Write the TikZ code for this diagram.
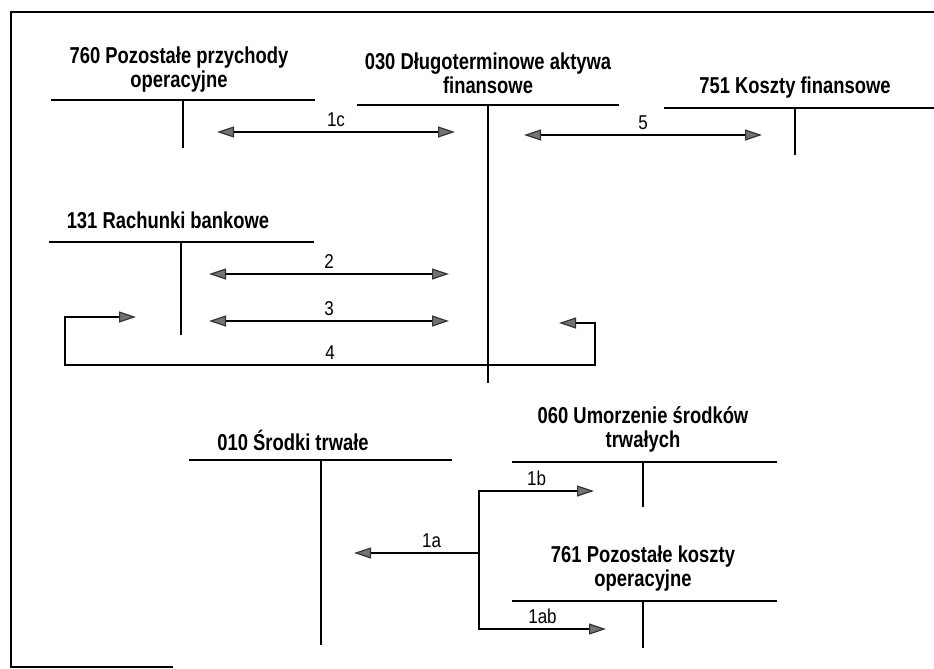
\documentclass[tikz,border=0pt]{standalone}
\usepackage{fontspec}
\setmainfont{Liberation Sans}[FakeStretch=0.85]
\newfontfamily\kontofont{Liberation Sans}[FakeStretch=0.8]
\usetikzlibrary{arrows.meta}
\usetikzlibrary{positioning}

\begin{document}
\begin{tikzpicture}[
			x=1pt, y=-1pt,
			>={Triangle[length=17pt,width=11pt,fill=black!55,color=black!80]},
			konto/.style={align=center, inner sep=0pt, font=\kontofont\bfseries\fontsize{23}{24}\selectfont},
			tline/.style={line width=1.7pt},
			flow/.style={line width=1.2pt},
			kwota/.style={above=4pt, inner sep=1pt, font=\fontsize{20}{22}\selectfont},
			]
			
			\useasboundingbox (0,0) rectangle (934,669);
			\draw [line width=1.3pt] (934,12) -- (11,12) -- (11,667) -- (173,667);
			
			% konta
			\node[konto]       (k760)  at (179,70)     {760 Pozostałe przychody\\operacyjne};
			\node[konto]       (k030)  at (488,73)     {030 Długoterminowe aktywa\\finansowe};
			\node[konto]       (k751)  at (795,88)     {751 Koszty finansowe};
			\node[konto]       (k131)  at (168,220)    {131 Rachunki bankowe};
			\node[konto]       (k010)  at (293,440)    {010 Środki trwałe};
			\node[konto]       (k060)  at (643,429)    {060 Umorzenie środków\\trwałych};
			\node[konto]       (k761)  at (643,569)    {761 Pozostałe koszty\\operacyjne};
			
			\draw [tline] (51,100) -- (315,100);   \draw [tline] (183,100) -- (183,148);
			\draw [tline] (357,105) -- (619,105);  \draw [tline] (488,105) -- (488,383);
			\draw [tline] (664,108) -- (934,108);  \draw [tline] (795,108) -- (795,155);
			\draw [tline] (49,242) -- (314,242);   \draw [tline] (181,242) -- (181,335);
			\draw [tline] (189,460) -- (452,460);  \draw [tline] (321,460) -- (321,645);
			\draw [tline] (512,462) -- (777,462);  \draw [tline] (643,462) -- (643,507);
			\draw [tline] (512,601) -- (777,601);  \draw [tline] (643,601) -- (643,648);
			
			% punkty zapisow
			\coordinate (a1c) at (217,132);  \coordinate (b1c) at (455,132);
			\coordinate (a5)  at (524,135);  \coordinate (b5)  at (762,135);
			\coordinate (a2)  at (209,274);  \coordinate (b2)  at (449,274);
			\coordinate (a3)  at (209,321);  \coordinate (b3)  at (449,321);
			\coordinate (a4)  at (136,317);  \coordinate (f4)  at (65,317);
			\coordinate (e4)  at (65,365);   \coordinate (d4)  at (595,365);
			\coordinate (c4)  at (595,323);  \coordinate (b4)  at (559,323);
			\coordinate (j1b) at (479,491);  \coordinate (b1b) at (594,491);
			\coordinate (j1a) at (479,553);  \coordinate (b1a) at (354,553);
			\coordinate (j1ab) at (479,629); \coordinate (b1ab) at (606,629);
			
			\draw [flow,<->] (a1c)                                    --node[kwota]            {1c}     (b1c);
			\draw [flow,<->] (a5)                                     --node[kwota]            {5}      (b5);
			\draw [flow,<->] (a2)                                     --node[kwota]            {2}      (b2);
			\draw [flow,<->] (a3)                                     --node[kwota]            {3}      (b3);
			\draw [flow,<->] (b4) -- (c4) -- (d4)                     --node[kwota]            {4}      (e4) -- (f4) -- (a4);
			\draw [flow,<->] (b1b)                                    --node[kwota]            {1b}     (j1b) -- (j1ab) --node[kwota] {1ab} (b1ab);
			\draw [flow,->]  (j1a)                                    --node[kwota,pos=0.38]   {1a}     (b1a);
			
			\end{tikzpicture}
\end{document}
